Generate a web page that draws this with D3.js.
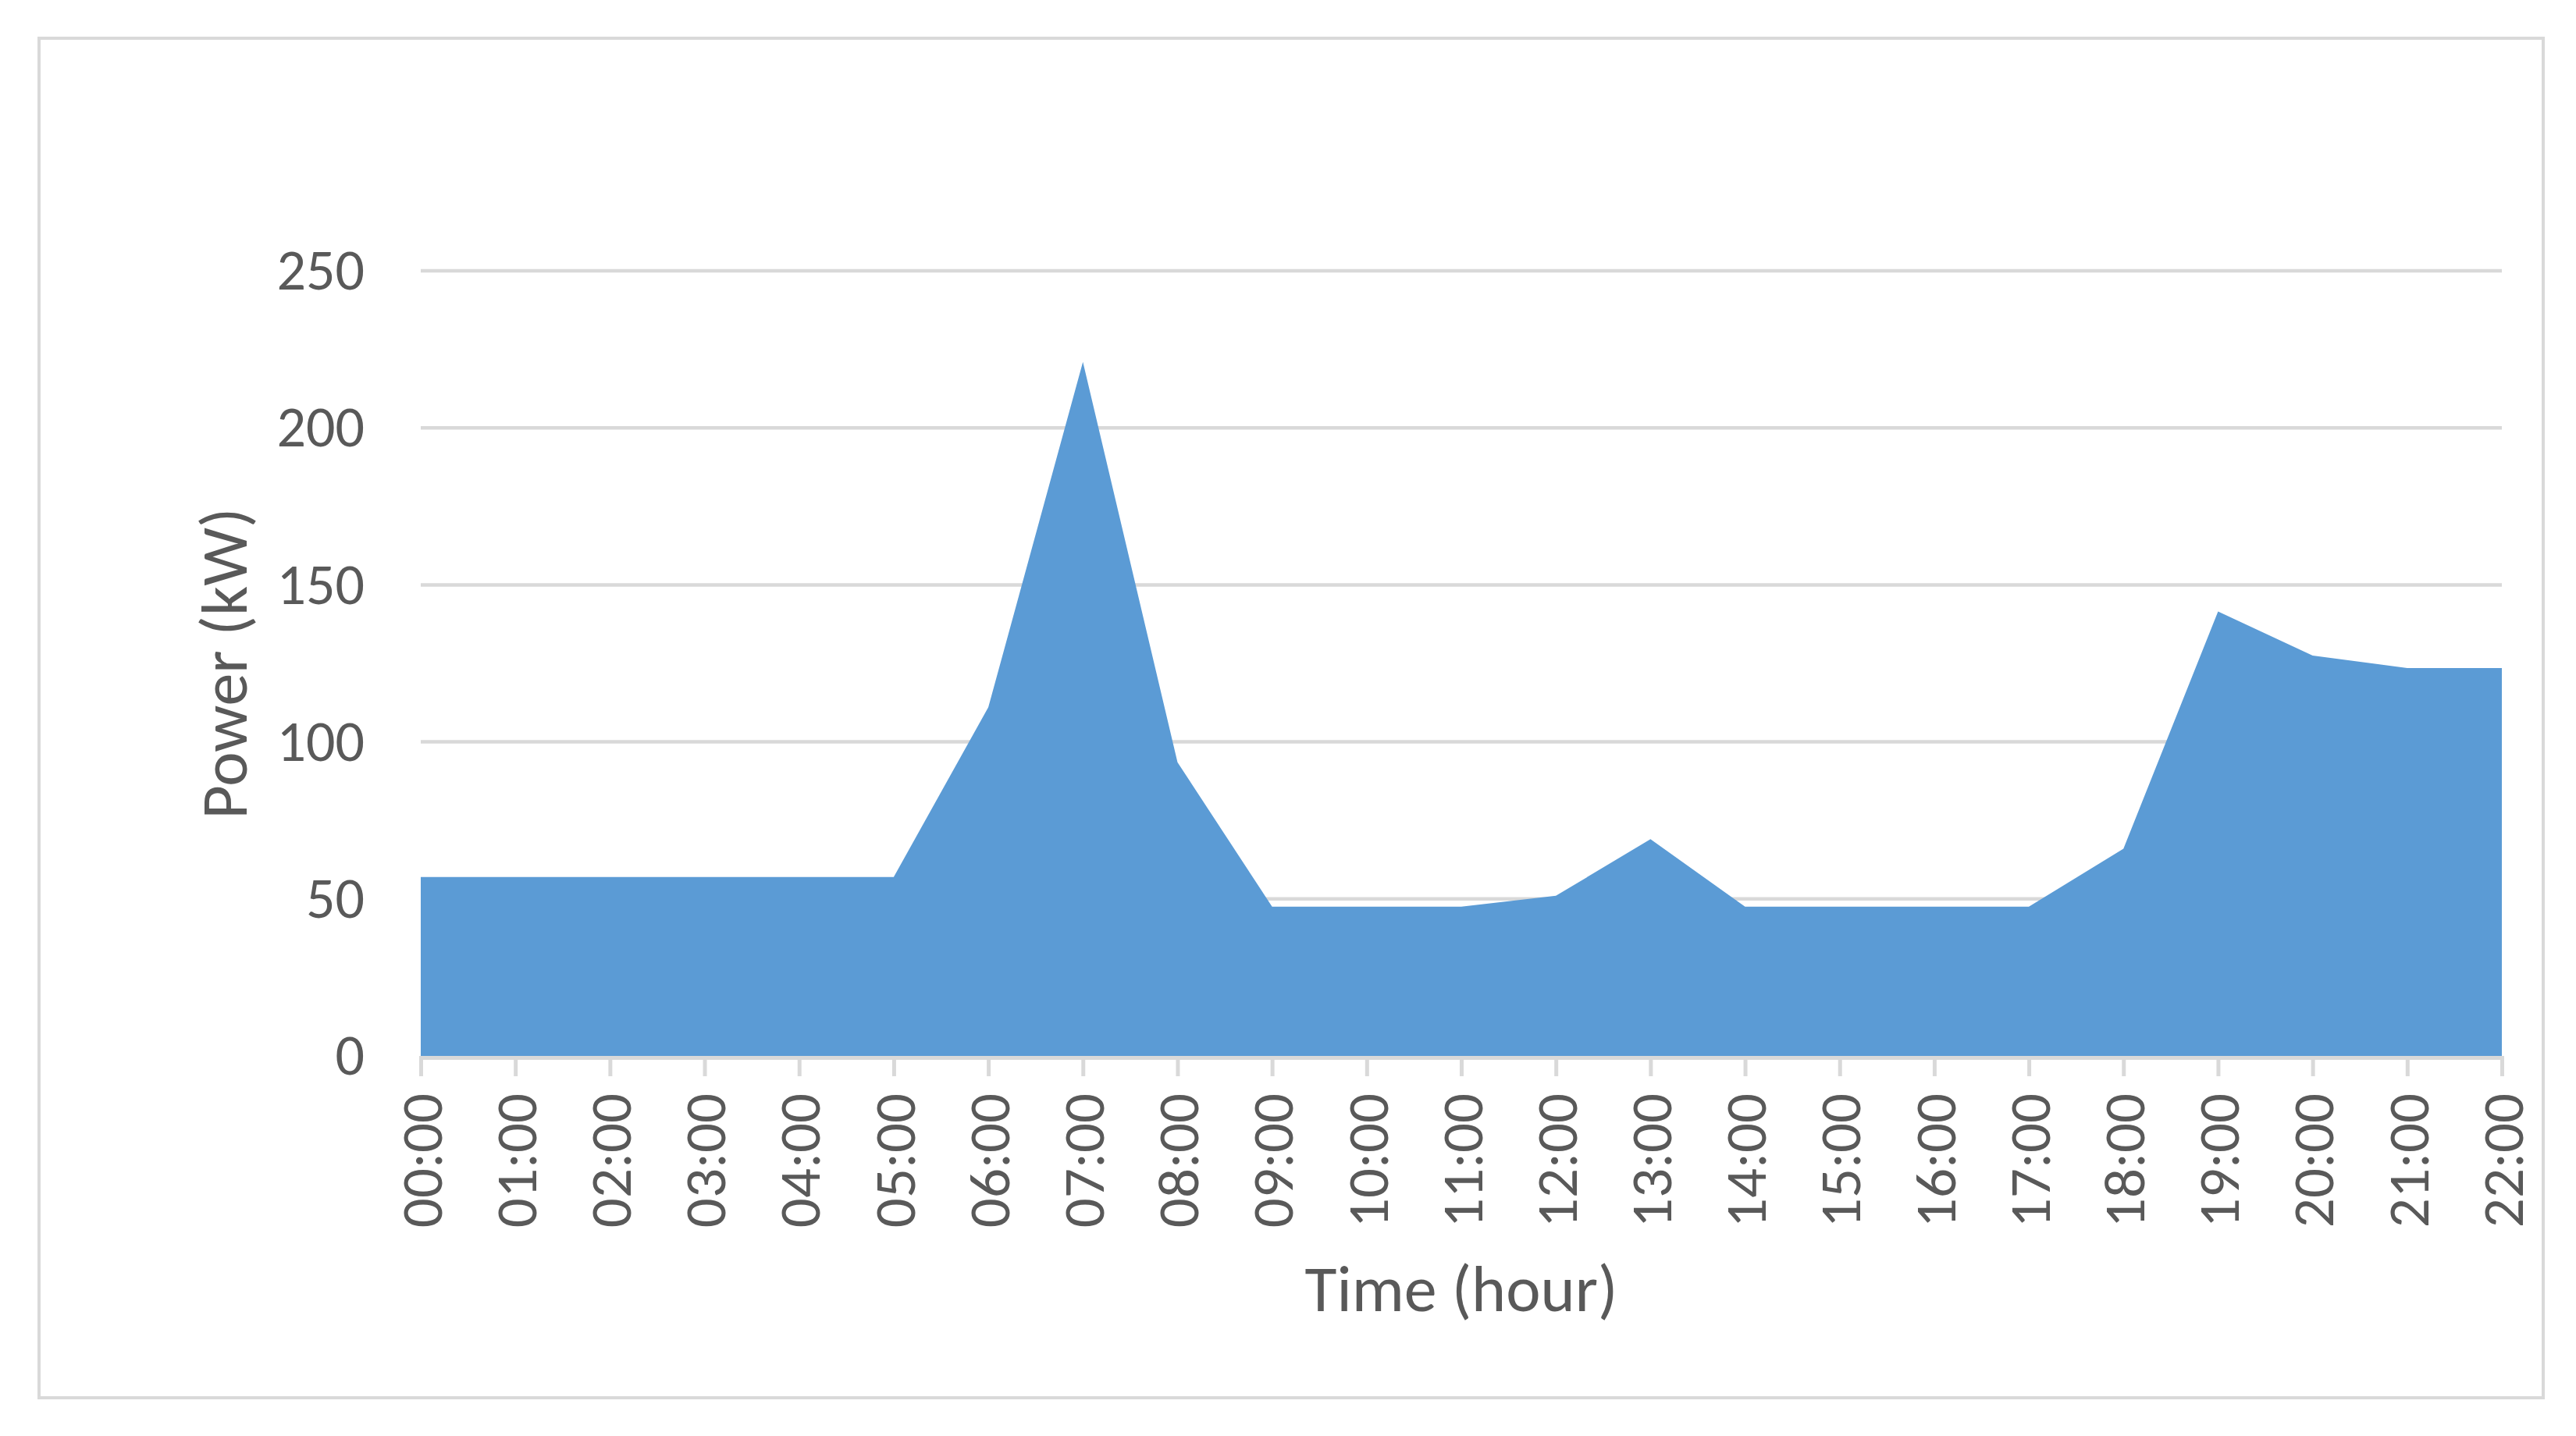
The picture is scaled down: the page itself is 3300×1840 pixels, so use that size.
<!DOCTYPE html>
<html>
<head>
<meta charset="utf-8">
<script src="https://cdn.jsdelivr.net/npm/d3@7"></script>
<style>
  body { margin: 0; background: #fff; }
  text { font-family: Carlito, Calibri, Lato, sans-serif; fill: #595959; }
</style>
</head>
<body>
<div id="chart"></div>
<script>
const hours = [
  "00:00", "01:00", "02:00", "03:00", "04:00", "05:00", "06:00", "07:00",
  "08:00", "09:00", "10:00", "11:00", "12:00", "13:00", "14:00", "15:00",
  "16:00", "17:00", "18:00", "19:00", "20:00", "21:00", "22:00",
];
const power = [
  57, 57, 57, 57, 57, 57, 111, 221, 93.5, 47.5, 47.5, 47.5,
  51, 69, 47.5, 47.5, 47.5, 47.5, 66, 141.5, 127.5, 123.5, 123.5,
];
const yTicks = [0, 50, 100, 150, 200, 250];

const width = 3300;
const height = 1840;
const margin = { top: 347, right: 95, bottom: 487, left: 539 };

const svg = d3
  .select("#chart")
  .append("svg")
  .attr("width", width)
  .attr("height", height);

// outer chart frame
svg
  .append("rect")
  .attr("x", 50)
  .attr("y", 49)
  .attr("width", 3208)
  .attr("height", 1742)
  .attr("fill", "none")
  .attr("stroke", "#d9d9d9")
  .attr("stroke-width", 4);

const xScale = d3
  .scalePoint()
  .domain(hours)
  .range([margin.left, width - margin.right]);

const yScale = d3
  .scaleLinear()
  .domain([0, 250])
  .range([height - margin.bottom, margin.top]);

// gridlines
svg
  .append("g")
  .selectAll("line")
  .data(yTicks.filter((d) => d > 0))
  .join("line")
  .attr("x1", margin.left)
  .attr("x2", width - margin.right)
  .attr("y1", (d) => yScale(d))
  .attr("y2", (d) => yScale(d))
  .attr("stroke", "#d9d9d9")
  .attr("stroke-width", 4.5);

const area = d3
  .area()
  .x((d, i) => xScale(hours[i]))
  .y0(yScale(0))
  .y1((d) => yScale(d));

svg
  .append("path")
  .datum(power)
  .attr("d", area)
  .attr("fill", "#5b9bd5");

// x axis
const xAxis = svg
  .append("g")
  .attr("transform", `translate(0, ${yScale(0) + 2})`)
  .call(d3.axisBottom(xScale).tickSize(24).tickPadding(20));

xAxis.select(".domain").attr("stroke", "#d9d9d9").attr("stroke-width", 5);
xAxis.selectAll(".tick line").attr("stroke", "#d9d9d9").attr("stroke-width", 5);
xAxis
  .selectAll(".tick text")
  .attr("transform", "rotate(-90)")
  .attr("x", -46)
  .attr("y", 0)
  .attr("dy", "0.35em")
  .attr("text-anchor", "end")
  .style("font-size", "75px")
  .style("font-family", "Carlito, Calibri, Lato, sans-serif")
  .attr("fill", "#595959");

// y axis
const yAxis = svg
  .append("g")
  .attr("transform", `translate(${margin.left}, 0)`)
  .call(d3.axisLeft(yScale).tickValues(yTicks).tickSize(0).tickPadding(72));

yAxis.select(".domain").remove();
yAxis
  .selectAll(".tick text")
  .style("font-size", "74px")
  .style("font-family", "Carlito, Calibri, Lato, sans-serif")
  .attr("fill", "#595959");

svg
  .append("text")
  .attr("x", (margin.left + width - margin.right) / 2)
  .attr("y", 1680)
  .attr("text-anchor", "middle")
  .style("font-size", "84px")
  .text("Time (hour)");

svg
  .append("text")
  .attr("transform", "rotate(-90)")
  .attr("x", -yScale(125))
  .attr("y", 316)
  .attr("text-anchor", "middle")
  .style("font-size", "84px")
  .text("Power (kW)");
</script>
</body>
</html>
